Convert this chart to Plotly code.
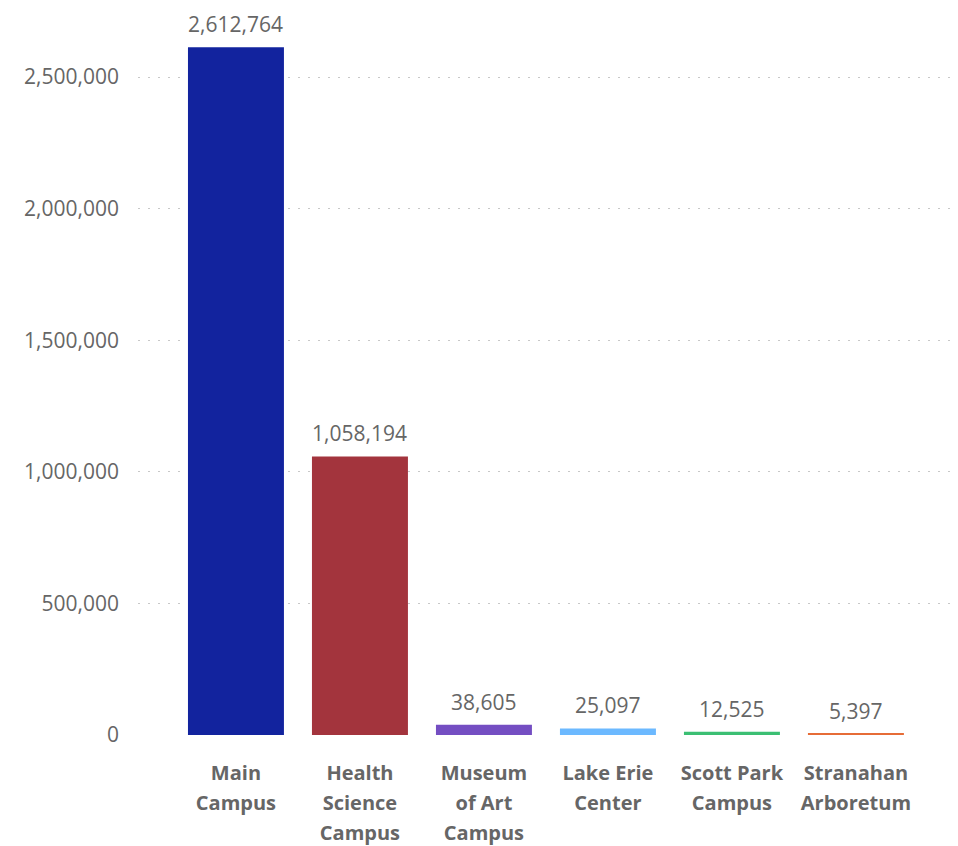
import plotly.graph_objects as go

category_lines = [["Main", "Campus"], ["Health", "Science", "Campus"], ["Museum", "of Art", "Campus"],
                  ["Lake Erie", "Center"], ["Scott Park", "Campus"], ["Stranahan", "Arboretum"]]
values = [2612764, 1058194, 38605, 25097, 12525, 5397]
colors = ["#12239E", "#A3343D", "#744EC2", "#6CB9FF", "#3BBF73", "#E66C37"]
y_tickvals = [0, 500000, 1000000, 1500000, 2000000, 2500000]

FONT = "Open Sans"
TXT = "#666666"

categories = ["<br>".join(lines) for lines in category_lines]
tick_text = ["<br>".join(f"<span style='font-size:20px'>{l}</span>" for l in lines)
             for lines in category_lines]

fig = go.Figure(go.Bar(
    x=categories,
    y=values,
    marker=dict(color=colors, line=dict(width=0)),
    width=0.774,
    cliponaxis=False,
))

for c, v in zip(categories, values):
    fig.add_annotation(x=c, y=v, xref="x", yref="y", text=f"{v:,}",
                       showarrow=False, yanchor="bottom", yshift=8, borderpad=0,
                       font=dict(family=FONT, size=21, color=TXT))

fig.update_layout(
    width=958, height=846,
    margin=dict(l=130, r=11, t=10, b=119),
    paper_bgcolor="white", plot_bgcolor="white",
    showlegend=False,
    font=dict(family=FONT, color=TXT),
)
fig.update_xaxes(
    range=[-0.79, 5.799],
    tickmode="array", tickvals=categories, ticktext=tick_text,
    showgrid=False, zeroline=False, showline=False, ticks="",
    tickfont=dict(family=FONT, size=23, color=TXT, weight="bold"),
    ticklabelstandoff=21, automargin=False,
)
fig.update_yaxes(
    range=[0, 2724200],
    tickvals=y_tickvals,
    tickformat=",d",
    showgrid=True, gridcolor="#C8C8C8", gridwidth=1, griddash="2px,8px",
    zeroline=False, showline=False, ticks="",
    tickfont=dict(family=FONT, size=21, color=TXT),
    ticklabelstandoff=18, automargin=False,
)

fig.write_html("out.html")
